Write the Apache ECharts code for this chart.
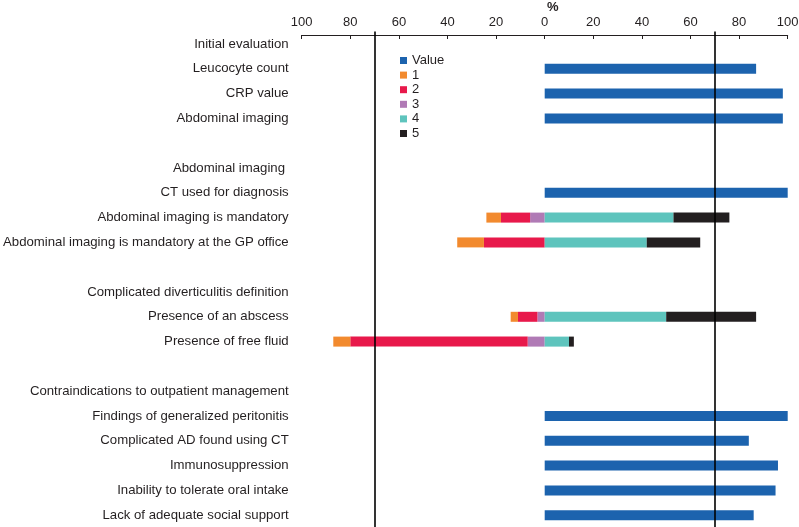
<!DOCTYPE html>
<html><head><meta charset="utf-8">
<script src="https://cdn.jsdelivr.net/npm/echarts@6/dist/echarts.min.js"></script>
<style>html,body{margin:0;padding:0;background:#fff}#c{width:799px;height:527px}</style>
</head><body><div id="c"></div>
<script>
const categories = [
  'Initial evaluation','Leucocyte count','CRP value','Abdominal imaging',' ',
  'Abdominal imaging ','CT used for diagnosis','Abdominal imaging is mandatory','Abdominal imaging is mandatory at the GP office','  ',
  'Complicated diverticulitis definition','Presence of an abscess','Presence of free fluid','   ',
  'Contraindications to outpatient management','Findings of generalized peritonitis','Complicated AD found using CT','Immunosuppression','Inability to tolerate oral intake','Lack of adequate social support'
];
const valueSeries = [null,87,98,98,null, null,100,null,null,null, null,null,null,null, null,100,84,96,95,86];
const s1 = [null,null,null,null,null, null,null,6,11,null, null,3,7,null, null,null,null,null,null,null];
const s2 = [null,null,null,null,null, null,null,12,25,null, null,8,73,null, null,null,null,null,null,null];
const s3 = [null,null,null,null,null, null,null,6,0,null, null,3,7,null, null,null,null,null,null,null];
const s4 = [null,null,null,null,null, null,null,53,42,null, null,50,10,null, null,null,null,null,null,null];
const s5 = [null,null,null,null,null, null,null,23,22,null, null,37,2,null, null,null,null,null,null,null];
const thresholds = [-70, 70];

const colors = {Value:'#1c63ae','1':'#f28a2e','2':'#e8194b','3':'#b07ab5','4':'#5ec4bd','5':'#231f20'};
const neg = a => a.map(v => v == null ? null : -v);
const font = '"Liberation Sans", Arial, Helvetica, sans-serif';

const chart = echarts.init(document.getElementById('c'));
const barBase = {type:'bar', barWidth:10, stack:'s', emphasis:{disabled:true}};
chart.setOption({
  animation:false,
  textStyle:{fontFamily:font},
  legend:{
    orient:'vertical', left:395, top:49, itemWidth:7, itemHeight:7, itemGap:1.6,
    icon:'rect', data:['Value','1','2','3','4','5'],
    textStyle:{fontSize:13, color:'#231f20', fontFamily:font}
  },
  grid:{left:301.7, right:11.3, top:31.6, height:496, outerBoundsMode:'none', containLabel:false},
  xAxis:{
    type:'value', position:'top', min:-100, max:100, interval:20, offset:-3.4,
    name:'%', nameLocation:'middle', nameGap:28, nameMoveOverlap:false,
    nameTextStyle:{fontSize:13, fontWeight:'bold', color:'#231f20', padding:[0,0,0,16], verticalAlign:'middle'},
    axisLine:{show:true, lineStyle:{color:'#231f20', width:1}},
    axisTick:{show:true, inside:true, length:4, lineStyle:{color:'#231f20'}},
    axisLabel:{fontSize:13, color:'#231f20', margin:6, formatter:v => String(Math.abs(v))},
    splitLine:{show:false}
  },
  yAxis:{
    type:'category', data:categories, inverse:true,
    axisLine:{show:false}, axisTick:{show:false}, splitLine:{show:false},
    axisLabel:{fontSize:13.2, color:'#231f20', margin:13, interval:0}
  },
  series:[
    Object.assign({}, barBase, {name:'Value', data:valueSeries, itemStyle:{color:colors.Value},
      markLine:{silent:true, symbol:'none', label:{show:false}, lineStyle:{color:'#000', width:1.6, type:'solid'},
        data:thresholds.map(t => ({xAxis:t}))}}),
    Object.assign({}, barBase, {name:'3', data:neg(s3), itemStyle:{color:colors['3']}}),
    Object.assign({}, barBase, {name:'2', data:neg(s2), itemStyle:{color:colors['2']}}),
    Object.assign({}, barBase, {name:'1', data:neg(s1), itemStyle:{color:colors['1']}}),
    Object.assign({}, barBase, {name:'4', data:s4, itemStyle:{color:colors['4']}}),
    Object.assign({}, barBase, {name:'5', data:s5, itemStyle:{color:colors['5']}})
  ]
});
</script></body></html>
